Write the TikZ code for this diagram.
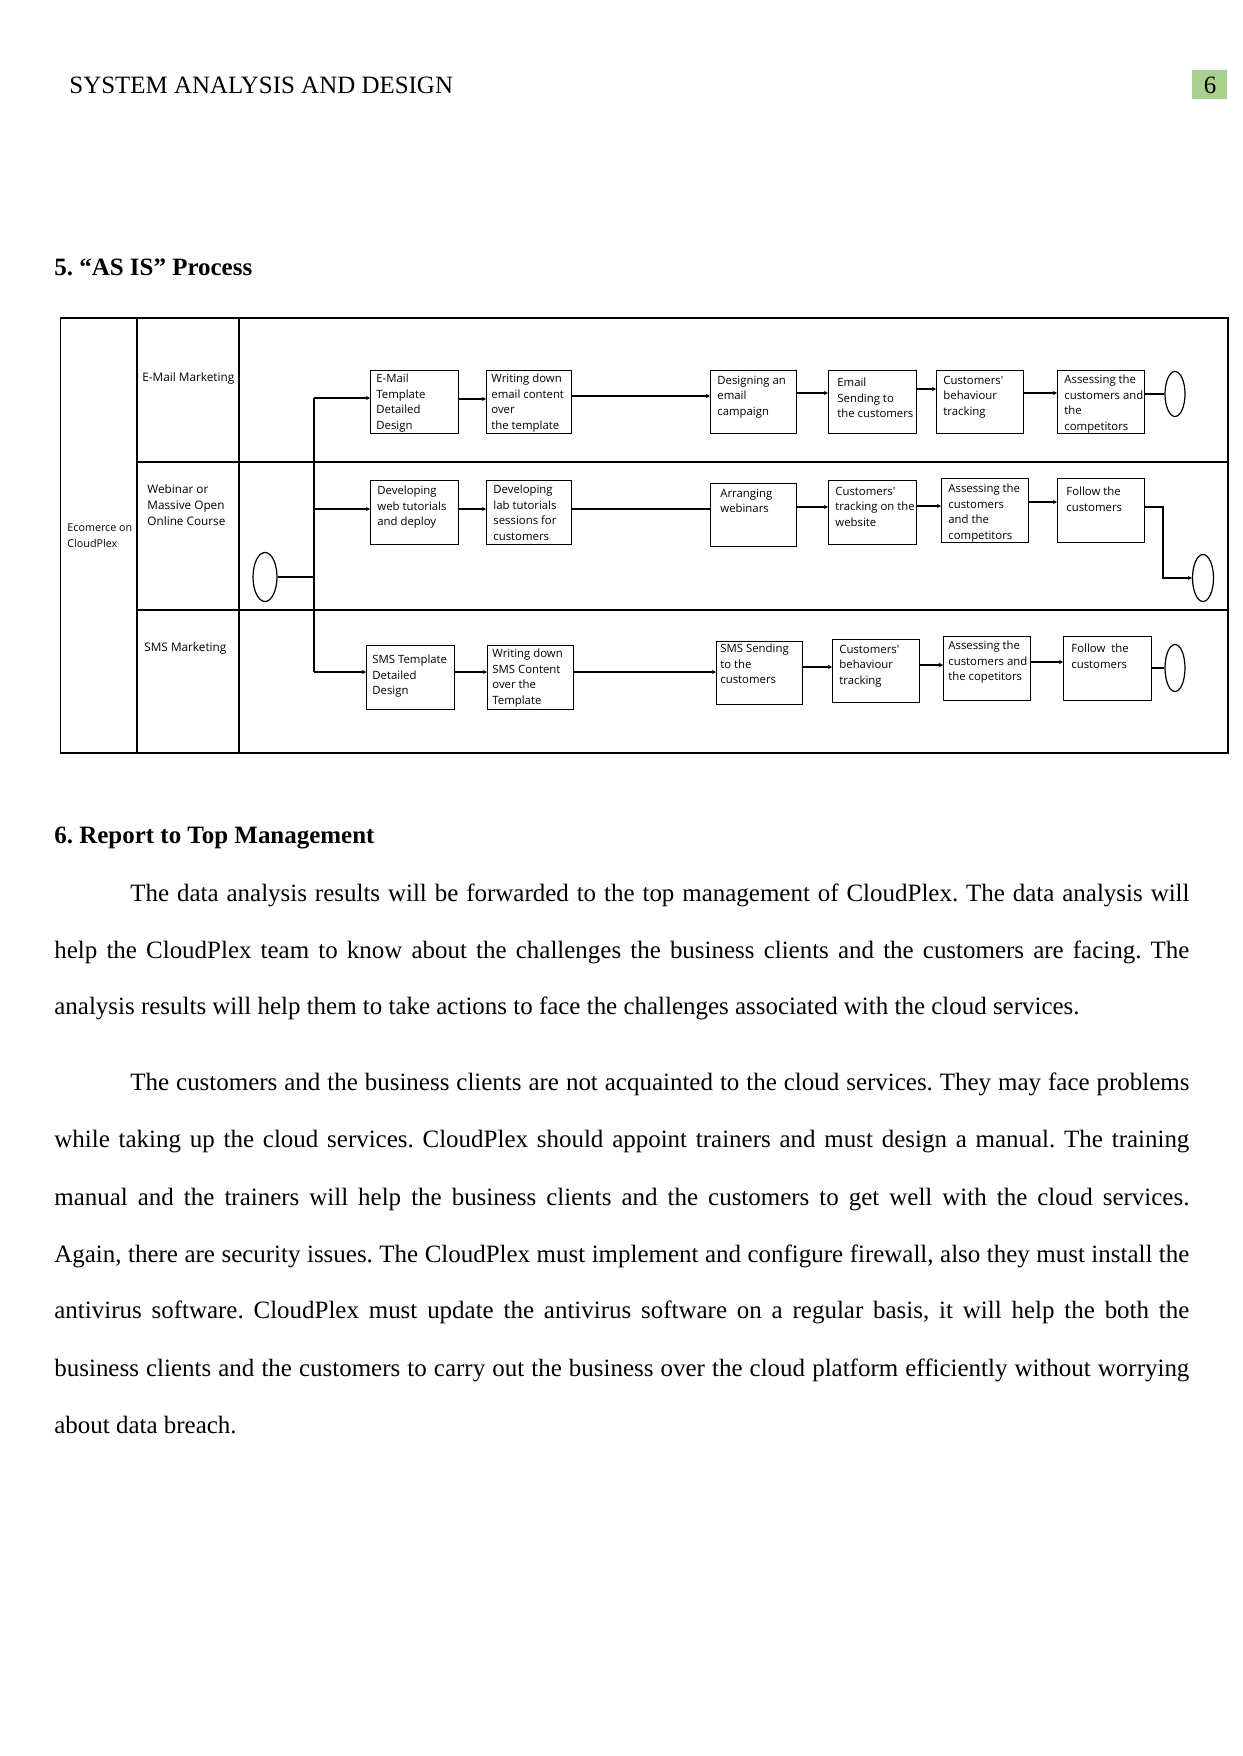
\documentclass[tikz,border=0pt]{standalone}
\usepackage{fontspec}
\setmainfont{Liberation Serif}
\newfontfamily\dfont[Ligatures=TeXOff]{Open Sans}
\usetikzlibrary{shapes.geometric,arrows.meta}
\newdimen\pxu \pxu=0.4928pt
\definecolor{pggreen}{HTML}{A9D08E}
\frenchspacing
\newcommand\mkbox[8]{%
  \node[pbox, minimum width={(#4-#2)*\pxu}, minimum height={(#5-#3)*\pxu}] (#1) at (#2,#3) {};
  \node[btxt] (#1t) at (#6,#7-4.5) {#8};}
\begin{document}
\begin{tikzpicture}[x=0.4928pt,y=-0.4928pt,
  pbox/.style={draw, line width=0.6pt, inner sep=0pt, anchor=north west},
  btxt/.style={font=\dfont\fontsize{5.6}{7.7}\selectfont, align=left, inner sep=0pt, anchor=north west},
  lbl/.style={font=\dfont\fontsize{5.8}{8}\selectfont, align=left, inner sep=0pt, anchor=west},
  ln/.style={line width=0.6pt},
  arr/.style={line width=0.6pt, -{Stealth[length=2pt,width=2pt]}},
  thk/.style={line width=1.1pt},
  thkarr/.style={line width=1.1pt, -{Stealth[length=2.2pt,width=2.2pt]}},
  endc/.style={draw, ellipse, line width=0.6pt, inner sep=0pt},
  body/.style={font=\fontsize{12.3}{14}\selectfont, inner sep=0pt, anchor=base west},
  bhead/.style={font=\bfseries\fontsize{12.3}{14}\selectfont, inner sep=0pt, anchor=base west}]
\useasboundingbox (0,0) rectangle (1242,1756);

% header
\node[body] (hdr) at (69,93) {SYSTEM ANALYSIS AND DESIGN};
\node[fill=pggreen, inner sep=0pt, minimum width={35*\pxu}, minimum height={29*\pxu}, anchor=north west] (pg) at (1192,70) {};
\node[body, anchor=base] (pgn) at (1210,93) {6};
\node[bhead] (sec5) at (54,275) {5. “AS IS” Process};

% swimlane table
\draw[ln] (60.7,318) rectangle (1228,753);
\draw[ln] (137,318) -- (137,753);
\draw[ln] (239,318) -- (239,753);
\draw[ln] (137,462) -- (1228,462);
\draw[ln] (137,610) -- (1228,610);

\node[lbl, font=\dfont\fontsize{5.3}{8}\selectfont] (l0) at (67,535.5) {Ecomerce on\\CloudPlex};
\node[lbl] (l1) at (142,378) {E-Mail Marketing};
\node[lbl] (l2) at (147,505) {Webinar or\\Massive Open\\Online Course};
\node[lbl] (l3) at (144,648) {SMS Marketing};

% lane 1
\mkbox{e1}{370}{370}{458}{433}{376}{378}{E-Mail\\Template\\Detailed\\Design}
\mkbox{e2}{486}{370}{571}{433}{491}{378}{Writing down\\email content\\over\\the template}
\mkbox{e3}{710}{370}{796}{433}{717}{380}{Designing an\\email\\campaign}
\mkbox{e4}{828}{370}{916}{433}{837}{382}{Email\\Sending to\\the customers}
\mkbox{e5}{936}{370}{1023}{433}{943}{380}{Customers'\\behaviour\\tracking}
\mkbox{e6}{1057}{370}{1144}{433}{1064}{379}{Assessing the\\customers and\\the\\competitors}
\node[endc, minimum width={20*\pxu}, minimum height={45*\pxu}] (eEnd) at (1175,394) {};

% lane 2
\mkbox{w1}{370}{480}{458}{544}{377}{490}{Developing\\web tutorials\\and deploy}
\mkbox{w2}{486}{480}{571}{544}{493}{489}{Developing\\lab tutorials\\sessions for\\customers}
\mkbox{w3}{710}{483}{796}{546}{720}{493}{Arranging\\webinars}
\mkbox{w4}{828}{480}{916}{544}{835}{491}{Customers'\\tracking on the\\website}
\mkbox{w5}{941}{478}{1028}{542}{948}{488}{Assessing the\\customers\\and the\\competitors}
\mkbox{w6}{1057}{478}{1144}{542}{1066}{491}{Follow the\\customers}
\node[endc, minimum width={21*\pxu}, minimum height={47*\pxu}] (wEnd) at (1203,578) {};
\node[endc, minimum width={24*\pxu}, minimum height={49*\pxu}] (start) at (265,577) {};

% lane 3
\mkbox{s1}{366}{645}{454}{709}{372}{659}{SMS Template\\Detailed\\Design}
\mkbox{s2}{487}{645}{573}{709}{492}{653}{Writing down\\SMS Content\\over the\\Template}
\mkbox{s3}{716}{641}{802}{704}{720}{648}{SMS Sending\\to the\\customers}
\mkbox{s4}{832}{639}{919}{702}{839}{649}{Customers'\\behaviour\\tracking}
\mkbox{s5}{943}{636}{1030}{700}{948}{645}{Assessing the\\customers and\\the copetitors}
\mkbox{s6}{1063}{636}{1151}{700}{1071}{648}{Follow~~the\\customers}
\node[endc, minimum width={20*\pxu}, minimum height={47*\pxu}] (sEnd) at (1175,668) {};

% trunk
\coordinate (tTop) at (314,398);
\coordinate (tMid) at (314,509);
\coordinate (tBot) at (314,672);
\draw[ln] (tTop) -- (tBot);
\draw[thk] (start.east) -- (start.east -| tTop);
\draw[arr] (tTop) -- (tTop -| e1.west);
\draw[arr] (tMid) -- (tMid -| w1.west);
\draw[arr] (tBot) -- (tBot -| s1.west);

% lane 1 connectors
\draw[arr] (e1.east |- 0,399) -- (e2.west |- 0,399);
\draw[arr] (e2.east |- 0,396) -- (e3.west |- 0,396);
\draw[arr] (e3.east |- 0,393) -- (e4.west |- 0,393);
\draw[arr] (e4.east |- 0,389) -- (e5.west |- 0,389);
\draw[arr] (e5.east |- 0,393) -- (e6.west |- 0,393);
\draw[ln] (e6.east |- 0,394) -- (eEnd.west);

% lane 2 connectors
\draw[arr] (w1.east |- 0,509) -- (w2.west |- 0,509);
\draw[ln] (w2.east |- 0,509) -- (w3.west |- 0,509);
\draw[arr] (w3.east |- 0,507) -- (w4.west |- 0,507);
\draw[arr] (w4.east |- 0,506) -- (w5.west |- 0,506);
\draw[arr] (w5.east |- 0,502) -- (w6.west |- 0,502);
\coordinate (wBend) at (1163,507);
\draw[arr] (w6.east |- wBend) -- (wBend) -- (wBend |- wEnd.west) -- (wEnd.west);

% lane 3 connectors
\draw[arr] (s1.east |- 0,672) -- (s2.west |- 0,672);
\draw[arr] (s2.east |- 0,672) -- (s3.west |- 0,672);
\draw[arr] (s3.east |- 0,667) -- (s4.west |- 0,667);
\draw[thkarr] (s4.east |- 0,665) -- (s5.west |- 0,665);
\draw[arr] (s5.east |- 0,662) -- (s6.west |- 0,662);
\draw[thk] (s6.east |- 0,668) -- (sEnd.west);

% section 6
\node[bhead] (sec6) at (54,843) {6. Report to Top Management};
\node[body] (p1a) at (130,901) {\makebox[521.9pt][s]{The data analysis results will be forwarded to the top management of CloudPlex. The data analysis will}};
\node[body] (p1b) at (54,958) {\makebox[559.3pt][s]{help the CloudPlex team to know about the challenges the business clients and the customers are facing. The}};
\node[body] (p1c) at (54,1014) {analysis results will help them to take actions to face the challenges associated with the cloud services.};
\node[body] (p2a) at (130,1090) {\makebox[521.9pt][s]{The customers and the business clients are not acquainted to the cloud services. They may face problems}};
\node[body] (p2b) at (54,1147) {\makebox[559.3pt][s]{while taking up the cloud services. CloudPlex should appoint trainers and must design a manual. The training}};
\node[body] (p2c) at (54,1205) {\makebox[559.3pt][s]{manual and the trainers will help the business clients and the customers to get well with the cloud services.}};
\node[body] (p2d) at (54,1262) {\makebox[559.3pt][s]{Again, there are security issues. The CloudPlex must implement and configure firewall, also they must install the}};
\node[body] (p2e) at (54,1318) {\makebox[559.3pt][s]{antivirus software. CloudPlex must update the antivirus software on a regular basis, it will help the both the}};
\node[body] (p2f) at (54,1376) {\makebox[559.3pt][s]{business clients and the customers to carry out the business over the cloud platform efficiently without worrying}};
\node[body] (p2g) at (54,1433) {about data breach.};
\end{tikzpicture}
\end{document}
